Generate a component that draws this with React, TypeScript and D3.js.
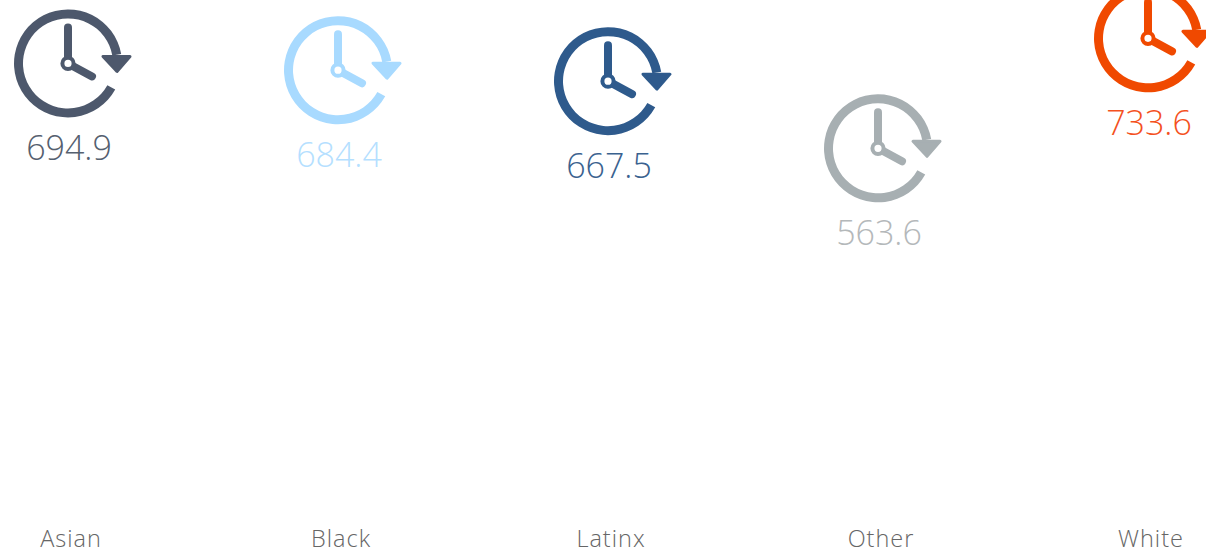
import React from "react";
import * as d3 from "d3";

const categories = ["Asian", "Black", "Latinx", "Other", "White"];
const values = [694.9, 684.4, 667.5, 563.6, 733.6];
const iconColors = ["#4e596c", "#a8daff", "#2e5a8c", "#a7afb2", "#f04a05"];
const textColors = ["#55606f", "#b5dfff", "#3a628f", "#b4b8ba", "#f4511e"];

const W = 1206;
const H = 554;
const x = d3.scaleBand<string>().domain(categories).range([-66, 1284]);
const y = d3.scaleLinear().domain([0, 800]).range([513, -4.6]);

const ring = d3.arc()({
  innerRadius: 45,
  outerRadius: 54,
  startAngle: (119 * Math.PI) / 180,
  endAngle: (440 * Math.PI) / 180,
  cornerRadius: 4.5,
} as any) as string;
const arrowPath = d3.line()([[35, -7], [62, -7], [49, 8]]) + "Z";
const minuteHand = d3.line()([[0, 0], [0, -36]]) as string;
const hourHand = d3.line()([[0, 0], [24, 13]]) as string;

const font = "'Open Sans', sans-serif";

function Icon({ color, cx, cy }: { color: string; cx: number; cy: number }) {
  return (
    <g transform={`translate(${cx},${cy})`} filter="url(#soft)">
      <path d={ring} fill={color} />
      <path d={arrowPath} fill={color} stroke={color} strokeWidth={3} strokeLinejoin="round" />
      <path d={minuteHand} stroke={color} strokeWidth={8} strokeLinecap="round" fill="none" />
      <path d={hourHand} stroke={color} strokeWidth={8} strokeLinecap="round" fill="none" />
      <circle r={5.6} fill="#fff" stroke={color} strokeWidth={4} />
    </g>
  );
}

export default function App() {
  return (
    <svg
      width={W}
      height={H}
      viewBox={`0 0 ${W} ${H}`}
      style={{ position: "absolute", left: 0, top: 0, display: "block", background: "#fff" }}
    >
      <defs>
        <filter id="soft" x="-10%" y="-10%" width="120%" height="120%">
          <feGaussianBlur stdDeviation={0.7} />
        </filter>
      </defs>
      {categories.map((c, i) => {
        const cx = (x(c) as number) + x.bandwidth() / 2;
        const cy = y(values[i]);
        return (
          <g key={c}>
            <Icon color={iconColors[i]} cx={cx - 1} cy={cy} />
            <text
              x={cx}
              y={cy + 96.5}
              textAnchor="middle"
              fontFamily={font}
              fontWeight={300}
              fontSize={34}
              fill={textColors[i]}
            >
              {values[i].toFixed(1)}
            </text>
            <text
              x={cx + 2}
              y={547}
              textAnchor="middle"
              fontFamily={font}
              fontWeight={300}
              fontSize={23.5}
              letterSpacing={1}
              fill="#666"
            >
              {c}
            </text>
          </g>
        );
      })}
    </svg>
  );
}
